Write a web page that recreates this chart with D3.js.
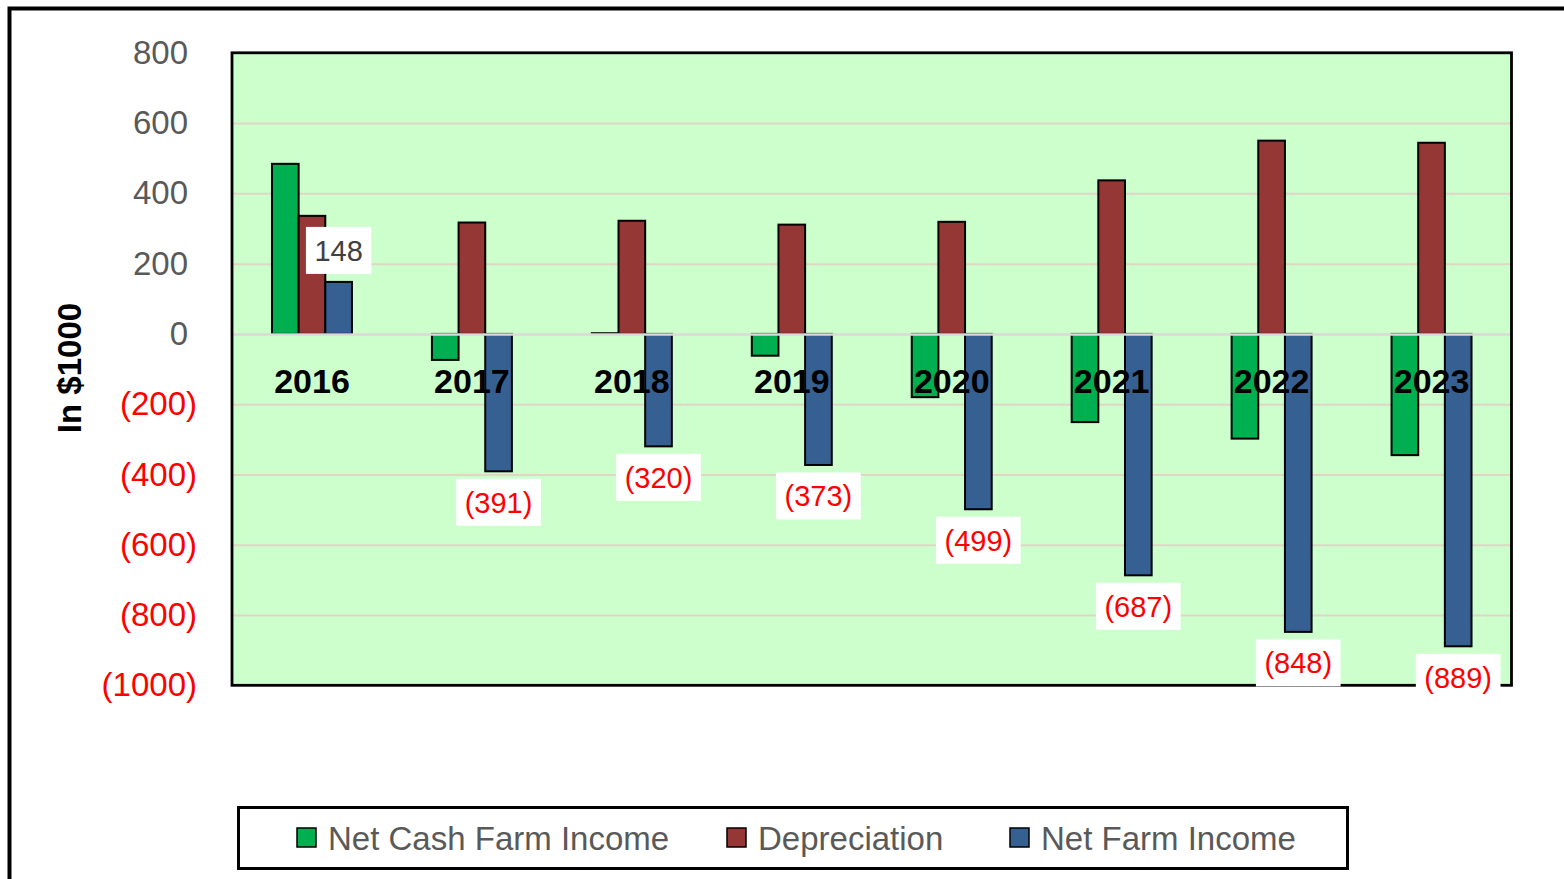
<!DOCTYPE html>
<html>
<head>
<meta charset="utf-8">
<script src="https://cdn.jsdelivr.net/npm/d3@7"></script>
<style>
html,body{margin:0;padding:0;background:#fff;overflow:hidden;}
svg{display:block;}
text{font-family:"Liberation Sans",Arial,sans-serif;}
</style>
</head>
<body>
<svg id="chart" width="1564" height="879"></svg>
<script>
const years = ["2016","2017","2018","2019","2020","2021","2022","2023"];
const netCashFarmIncome = [484, -74, 2, -62, -180, -251, -298, -345];
const depreciation = [336, 317, 322, 311, 319, 437, 550, 544];
const netFarmIncome = [148, -391, -320, -373, -499, -687, -848, -889];
const seriesNames = ["Net Cash Farm Income", "Depreciation", "Net Farm Income"];
const seriesColors = ["#00b050", "#953735", "#376092"];
const yTicks = [800, 600, 400, 200, 0, -200, -400, -600, -800, -1000];
const yAxisTitle = "In $1000";

const seriesValues = [netCashFarmIncome, depreciation, netFarmIncome];
const svg = d3.select("#chart");

// outer chart border
svg.append("rect").attr("x", 9.5).attr("y", 8.5).attr("width", 1700).attr("height", 1000)
  .attr("fill", "#fff").attr("stroke", "#000").attr("stroke-width", 4);

const plot = {left: 232, right: 1511.5, top: 52.8, bottom: 685.3};

const x0 = d3.scaleBand().domain(years).range([plot.left, plot.right])
  .paddingInner(0.5).paddingOuter(0.25);
const x1 = d3.scaleBand().domain(d3.range(3)).range([0, x0.bandwidth()]);
const y = d3.scaleLinear().domain([-1000, 800]).range([plot.bottom, plot.top]);

// plot background
svg.append("rect").attr("x", plot.left).attr("y", plot.top)
  .attr("width", plot.right - plot.left).attr("height", plot.bottom - plot.top)
  .attr("fill", "#ccffcc");

// gridlines
const grid = svg.append("g").attr("transform", `translate(${plot.left},0)`)
  .call(d3.axisLeft(y).tickValues(yTicks.filter(v => v !== 0 && v !== 800 && v !== -1000))
    .tickSize(-(plot.right - plot.left)).tickFormat(""));
grid.select(".domain").remove();
grid.selectAll(".tick line").attr("stroke", "#e0d6c6").attr("stroke-width", 2);

// bars
const groups = svg.append("g").selectAll("g").data(years).join("g")
  .attr("transform", d => `translate(${x0(d)},0)`);
groups.selectAll("rect").data((d, i) => seriesValues.map((s, k) => ({k, v: s[i]})))
  .join("rect")
  .attr("x", d => x1(d.k))
  .attr("width", x1.bandwidth())
  .attr("y", d => y(Math.max(0, d.v)))
  .attr("height", d => Math.abs(y(d.v) - y(0)))
  .attr("fill", d => seriesColors[d.k])
  .attr("stroke", "#000").attr("stroke-width", 2);

// category axis (zero line + year labels)
const xAxis = svg.append("g").attr("transform", `translate(0,${y(0)})`)
  .call(d3.axisBottom(x0).tickSize(0).tickSizeOuter(0));
xAxis.select(".domain").attr("stroke", "#d9d9d9").attr("stroke-width", 2.5);
xAxis.selectAll(".tick text")
  .attr("y", 59).attr("dy", 0)
  .attr("font-family", "'Liberation Sans', Arial, sans-serif")
  .attr("font-size", 34).attr("font-weight", "bold").attr("fill", "#000");

// plot border
svg.append("rect").attr("x", plot.left).attr("y", plot.top)
  .attr("width", plot.right - plot.left).attr("height", plot.bottom - plot.top)
  .attr("fill", "none").attr("stroke", "#000").attr("stroke-width", 2.8);

// y axis labels
const fmt = v => v < 0 ? `(${-v})` : `${v}`;
const yAxis = svg.append("g").attr("transform", `translate(${plot.left},0)`)
  .call(d3.axisLeft(y).tickValues(yTicks).tickSize(0).tickPadding(35).tickFormat(fmt));
yAxis.select(".domain").remove();
yAxis.selectAll(".tick text")
  .attr("font-family", "'Liberation Sans', Arial, sans-serif")
  .attr("font-size", 33)
  .attr("fill", d => d < 0 ? "#ff0000" : "#595959")
  .attr("dx", d => d < 0 ? 0 : -9);

// y axis title
svg.append("text")
  .attr("transform", `translate(81,368) rotate(-90)`)
  .attr("text-anchor", "middle")
  .attr("font-size", 33).attr("font-weight", "bold").attr("fill", "#000")
  .text(yAxisTitle);

// data labels for Net Farm Income
const labelG = svg.append("g");
years.forEach((yr, i) => {
  const v = netFarmIncome[i];
  const cx = x0(yr) + x1(2) + x1.bandwidth() / 2;
  const g = labelG.append("g");
  const t = g.append("text").attr("x", cx).attr("text-anchor", "middle")
    .attr("font-size", 29).attr("fill", v < 0 ? "#ff0000" : "#404040")
    .text(fmt(v));
  const w = t.node().getComputedTextLength() + 17;
  const h = 47;
  const boxTop = v < 0 ? y(v) + 7.5 : y(v) - 8 - h;
  g.insert("rect", "text").attr("x", cx - w / 2).attr("y", boxTop)
    .attr("width", w).attr("height", h).attr("fill", "#fff");
  t.attr("y", boxTop + h / 2 + 10.5);
});

// legend
const legend = svg.append("g");
legend.append("rect").attr("x", 238.5).attr("y", 807.5).attr("width", 1109).attr("height", 61)
  .attr("fill", "#fff").attr("stroke", "#000").attr("stroke-width", 3);
const legendX = [297, 727, 1010];
seriesNames.forEach((name, k) => {
  legend.append("rect").attr("x", legendX[k]).attr("y", 828).attr("width", 19).attr("height", 19)
    .attr("fill", seriesColors[k]).attr("stroke", "#000").attr("stroke-width", 1.5);
  legend.append("text").attr("x", legendX[k] + 31).attr("y", 850)
    .attr("font-size", 33).attr("fill", "#595959").text(name);
});
</script>
</body>
</html>
